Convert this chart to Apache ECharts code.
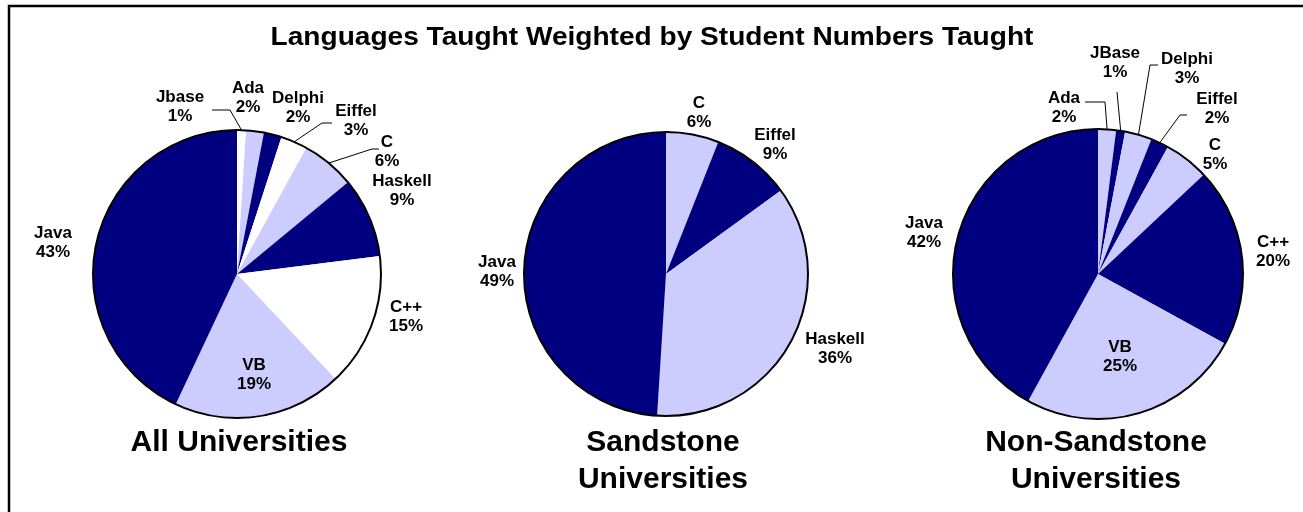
<!DOCTYPE html>
<html>
<head>
<meta charset="utf-8">
<script src="https://cdn.jsdelivr.net/npm/echarts@6/dist/echarts.min.js"></script>
<style>
  html, body { margin: 0; padding: 0; background: #fff; }
  #chart { width: 1303px; height: 512px; }
</style>
</head>
<body>
<div id="chart"></div>
<script>
// ---- data ----
const chartTitle = 'Languages Taught Weighted by Student Numbers Taught';
const pieTitles = ['All Universities', 'Sandstone\nUniversities', 'Non-Sandstone\nUniversities'];

const allNames  = ['Jbase', 'Ada', 'Delphi', 'Eiffel', 'C', 'Haskell', 'C++', 'VB', 'Java'];
const allValues = [1, 2, 2, 3, 6, 9, 15, 19, 43];

const sandNames  = ['C', 'Eiffel', 'Haskell', 'Java'];
const sandValues = [6, 9, 36, 49];

const nonNames  = ['Ada', 'JBase', 'Delphi', 'Eiffel', 'C', 'C++', 'VB', 'Java'];
const nonValues = [2, 1, 3, 2, 5, 20, 25, 42];

// ---- styles ----
const NAVY = '#000080', LIGHT = '#CCCCFF', WHITE = '#FFFFFF';
const allColors  = [WHITE, LIGHT, NAVY, WHITE, LIGHT, NAVY, WHITE, LIGHT, NAVY];
const sandColors = [LIGHT, NAVY, LIGHT, NAVY];
const nonColors  = [LIGHT, NAVY, LIGHT, NAVY, LIGHT, NAVY, LIGHT, NAVY];

// ---- layout (pie geometry, label placement, leader line offsets relative to label centre) ----
const pieGeom = [
  { center: [237, 274], radius: 144, titleX: 239 },
  { center: [666, 274], radius: 142, titleX: 663 },
  { center: [1098, 274], radius: 145, titleX: 1096 }
];
const allLabelPos = [
  [180, 107, [32, 3, 50, 3]],
  [248, 98],
  [298, 108],
  [356, 121, [-24, 2, -34, 2]],
  [387, 152, [-8, -3, -15, -3]],
  [402, 191],
  [406, 317],
  [254, 375],
  [53, 243]
];
const sandLabelPos = [
  [699, 113],
  [775, 145],
  [835, 349],
  [497, 272]
];
const nonLabelPos = [
  [1064, 108, [21, -6, 41, -6]],
  [1115, 63, [2, 29, 2, 29]],
  [1187, 69, [-29, -4, -37, -4]],
  [1217, 109, [-30, 6, -37, 6]],
  [1215, 155],
  [1273, 252],
  [1120, 357],
  [924, 233]
];

const FONT = '"Liberation Sans", Arial, Helvetica, sans-serif';

function makePie(names, values, colors, labelPos, geom) {
  return {
    type: 'pie',
    center: geom.center,
    radius: geom.radius,
    startAngle: 90,
    clockwise: true,
    avoidLabelOverlap: false,
    animation: false,
    silent: true,
    itemStyle: { borderWidth: 0 },
    label: {
      show: true,
      position: 'outside',
      formatter: '{b}\n{c}%',
      color: '#000',
      fontFamily: FONT,
      fontWeight: 'bold',
      fontSize: 17,
      lineHeight: 19,
      align: 'center'
    },
    labelLine: { show: false, length: 10, length2: 10, lineStyle: { color: '#000', width: 1 } },
    emphasis: { disabled: true },
    data: names.map((n, i) => ({
      name: n,
      value: values[i],
      itemStyle: { color: colors[i] },
      labelLine: { show: !!labelPos[i][2] }
    })),
    labelLayout: function (params) {
      const p = labelPos[params.dataIndex];
      const res = { x: p[0], y: p[1], align: 'center', verticalAlign: 'middle' };
      if (p[2] && params.labelLinePoints) {
        const a = params.labelLinePoints[0];
        res.labelLinePoints = [
          [a[0], a[1]],
          [p[0] + p[2][2], p[1] + p[2][3]],
          [p[0] + p[2][0], p[1] + p[2][1]]
        ];
      }
      return res;
    }
  };
}

function makeOutline(geom) {
  return {
    type: 'pie',
    center: geom.center,
    radius: geom.radius,
    silent: true,
    animation: false,
    z: 5,
    label: { show: false },
    labelLine: { show: false },
    emphasis: { disabled: true },
    itemStyle: { color: 'rgba(0,0,0,0)', borderColor: '#000', borderWidth: 2 },
    data: [{ value: 1, name: '' }]
  };
}

const chart = echarts.init(document.getElementById('chart'), null, { renderer: 'canvas' });
chart.setOption({
  backgroundColor: '#fff',
  animation: false,
  graphic: [
    { type: 'rect', shape: { x: 9, y: 6, width: 1400, height: 700 }, style: { fill: 'none', stroke: '#000', lineWidth: 2.5 }, silent: true },
    {
      type: 'text', x: 652, y: 38, scaleX: 1.08, silent: true,
      style: {
        text: chartTitle, fontFamily: FONT, fontWeight: 'bold', fontSize: 26,
        align: 'center', verticalAlign: 'middle', fill: '#000'
      }
    }
  ].concat(pieTitles.map((t, i) => ({
    type: 'text',
    x: pieGeom[i].titleX,
    y: 424,
    style: {
      text: t, fontFamily: FONT, fontWeight: 'bold', fontSize: 30, lineHeight: 37,
      align: 'center', verticalAlign: 'top', fill: '#000'
    },
    silent: true
  }))),
  series: [
    makePie(allNames, allValues, allColors, allLabelPos, pieGeom[0]),
    makePie(sandNames, sandValues, sandColors, sandLabelPos, pieGeom[1]),
    makePie(nonNames, nonValues, nonColors, nonLabelPos, pieGeom[2]),
    makeOutline(pieGeom[0]),
    makeOutline(pieGeom[1]),
    makeOutline(pieGeom[2])
  ]
});
</script>
</body>
</html>
